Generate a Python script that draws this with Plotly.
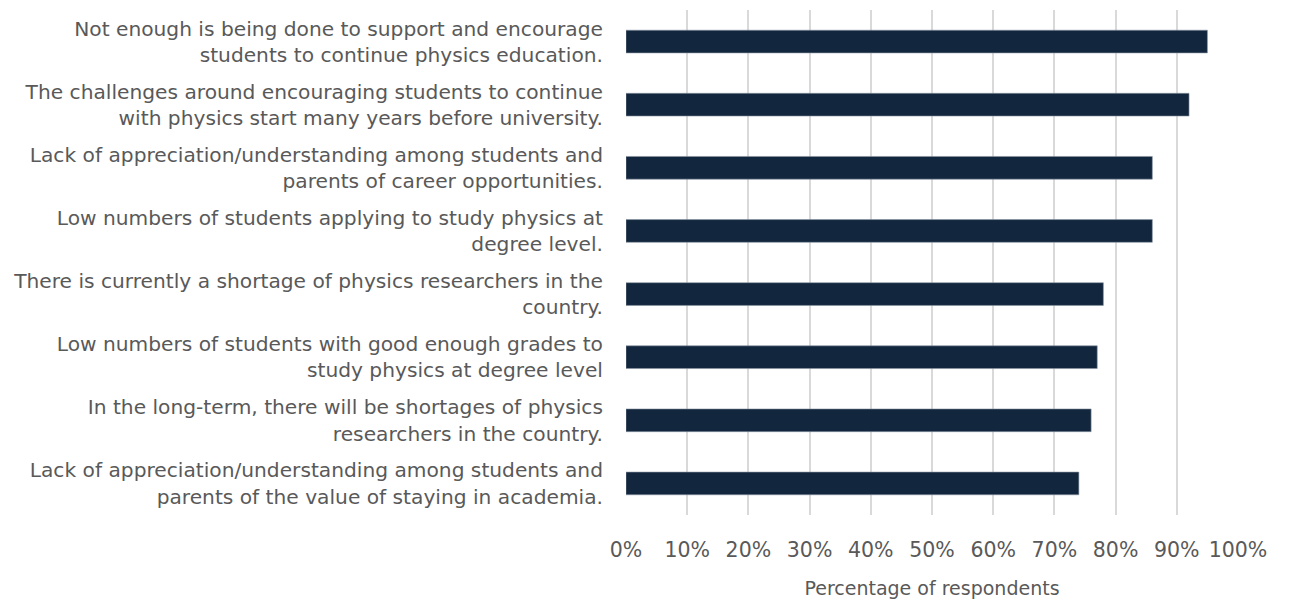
import plotly.graph_objects as go

# statements, top to bottom as shown
statements = [
    "Not enough is being done to support and encourage<br>students to continue physics education.",
    "The challenges around encouraging students to continue<br>with physics start many years before university.",
    "Lack of appreciation/understanding among students and<br>parents of career opportunities.",
    "Low numbers of students applying to study physics at<br>degree level.",
    "There is currently a shortage of physics researchers in the<br>country.",
    "Low numbers of students with good enough grades to<br>study physics at degree level",
    "In the long-term, there will be shortages of physics<br>researchers in the country.",
    "Lack of appreciation/understanding among students and<br>parents of the value of staying in academia.",
]
share_agree = [0.95, 0.92, 0.86, 0.86, 0.78, 0.77, 0.76, 0.74]

tick_vals = [i / 10 for i in range(11)]
tick_text = [f"{i * 10}%" for i in range(11)]

FONT = "DejaVu Sans, Verdana, sans-serif"
GREY = "#595959"

fig = go.Figure(
    go.Bar(
        x=share_agree,
        y=statements,
        orientation="h",
        width=0.36,
        marker=dict(color="#12263d", line=dict(color="#8a96a3", width=0.6)),
        hoverinfo="x+y",
    )
)

# page body adds an 8px margin, so the figure is sized to sit inside the window
fig.update_layout(
    width=1276,
    height=591,
    margin=dict(l=618, r=46, t=2, b=84),
    plot_bgcolor="white",
    paper_bgcolor="white",
    font=dict(family=FONT, size=20, color=GREY),
    showlegend=False,
)

fig.update_xaxes(
    range=[0, 1],
    tickvals=tick_vals,
    ticktext=tick_text,
    showgrid=True,
    gridcolor="#d9d9d9",
    gridwidth=1.5,
    zeroline=False,
    showline=False,
    ticks="outside",
    ticklen=16,
    tickcolor="rgba(0,0,0,0)",
    tickfont=dict(size=20.5, color=GREY),
    title=dict(text="Percentage of respondents", standoff=22, font=dict(size=19, color=GREY)),
)

fig.update_yaxes(
    categoryorder="array",
    categoryarray=statements[::-1],
    showgrid=False,
    zeroline=False,
    showline=False,
    ticks="outside",
    ticklen=18,
    tickcolor="rgba(0,0,0,0)",
    tickfont=dict(size=20.2, color=GREY),
    automargin=False,
)

fig.write_html("out.html")
